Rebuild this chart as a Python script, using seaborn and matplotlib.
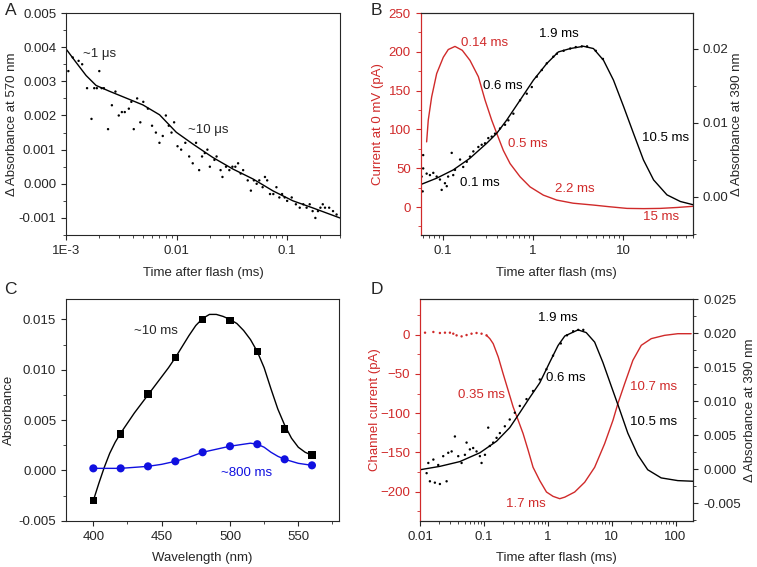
import numpy as np
import pandas as pd
import matplotlib
matplotlib.use("Agg")
import matplotlib.pyplot as plt
from matplotlib.ticker import MultipleLocator, FixedLocator, FixedFormatter, NullFormatter, LogLocator
import seaborn as sns

sns.set_style("ticks")
plt.rcParams["font.family"] = ["Liberation Sans", "DejaVu Sans"]
plt.rcParams["font.size"] = 9.5

RED = "#d02a2a"
BLUE = "#1010e0"

# ---- Panel A: absorbance at 570 nm ----
a_fit_t = [0.001, 0.00123, 0.00152, 0.00187, 0.00247, 0.0035, 0.00496, 0.00702, 0.00993,
           0.0141, 0.0213, 0.0324, 0.0492, 0.0747, 0.113, 0.172, 0.30]
a_fit_v = [0.00395, 0.00356, 0.00317, 0.00288, 0.00271, 0.00251, 0.00231, 0.00202, 0.00151,
           0.00116, 0.00077, 0.00043, 0.00014, -0.00021, -0.0005, -0.00071, -0.001]
a_dot_t = [0.00105, 0.00115, 0.0013, 0.0014, 0.00155, 0.0017, 0.0018, 0.0019, 0.002, 0.0021,
           0.0022, 0.0024, 0.0026, 0.0028, 0.003, 0.0032, 0.0034, 0.0037, 0.0039, 0.0041,
           0.0044, 0.0047, 0.005, 0.0055, 0.006, 0.0065, 0.007, 0.0075, 0.008, 0.0085,
           0.009, 0.0095, 0.0102, 0.011, 0.012, 0.013, 0.014, 0.015, 0.016, 0.017, 0.018,
           0.019, 0.02, 0.022, 0.023, 0.025, 0.026, 0.028, 0.03, 0.032, 0.034, 0.036,
           0.038, 0.04, 0.044, 0.047, 0.05, 0.053, 0.056, 0.06, 0.063, 0.066, 0.07, 0.075,
           0.08, 0.085, 0.09, 0.095, 0.1, 0.11, 0.12, 0.13, 0.14, 0.15, 0.16, 0.17, 0.18,
           0.19, 0.2, 0.21, 0.22, 0.24, 0.26, 0.28]
a_dot_v = [0.0033, 0.0037, 0.0036, 0.0035, 0.0028, 0.0019, 0.0028, 0.0028, 0.0033, 0.0028,
           0.0028, 0.0016, 0.0023, 0.0027, 0.002, 0.0021, 0.0021, 0.0022, 0.0024, 0.0016,
           0.0025, 0.0018, 0.0024, 0.0022, 0.0017, 0.0015, 0.0012, 0.0014, 0.002, 0.0017,
           0.0015, 0.0018, 0.0011, 0.001, 0.0012, 0.0008, 0.0006, 0.0012, 0.0004, 0.0008,
           0.0009, 0.001, 0.0005, 0.0007, 0.0008, 0.0004, 0.0002, 0.0005, 0.0004, 0.0005,
           0.0005, 0.0006, 0.0003, 0.0004, 0.0001, -0.0002, 0.0001, 0.0, 0.0001, -0.0001,
           0.0002, 0.0001, -0.0003, -0.0003, -0.0001, -0.0004, -0.0003, -0.0004, -0.0005,
           -0.0004, -0.0006, -0.0007, -0.0006, -0.0007, -0.0006, -0.0008, -0.001, -0.0008,
           -0.0007, -0.0006, -0.0007, -0.0007, -0.0008, -0.0009]

# ---- Panel B: current at 0 mV (left) and absorbance at 390 nm (right) ----
b_cur_t = [0.0664, 0.0692, 0.0755, 0.0858, 0.1016, 0.1154, 0.137, 0.165, 0.201, 0.249,
           0.295, 0.35, 0.398, 0.471, 0.56, 0.723, 0.933, 1.31, 1.85, 2.8, 4.7, 7.0, 11.1,
           17.0, 25.9, 40.0, 60.0]
b_cur_v = [84, 112, 142, 172, 193, 203, 207, 202, 189, 168, 138, 112, 95, 73, 56, 39, 26,
           15.4, 9, 5, 2.6, 0.5, -1.7, -2.0, -1.7, -0.5, 1.0]
b_abs_t = [0.056, 0.0858, 0.131, 0.201, 0.308, 0.398, 0.514, 0.723, 1.016, 1.43, 1.92, 2.6,
           3.65, 4.71, 6.09, 7.86, 10.2, 13.1, 16.9, 21.9, 30.8, 43.4, 60.8]
b_abs_v = [0.00158, 0.00248, 0.0036, 0.00518, 0.0072, 0.00854, 0.01034, 0.01303, 0.01573,
           0.01798, 0.01954, 0.0200, 0.02031, 0.0200, 0.01842, 0.01573, 0.01213, 0.00854,
           0.00495, 0.00225, 0.00023, -0.00067, -0.00112]
b_dot_t = [0.0608, 0.0608, 0.0584, 0.060, 0.0664, 0.0722, 0.0787, 0.0858, 0.0933, 0.0975,
           0.106, 0.111, 0.115, 0.126, 0.131, 0.137, 0.156, 0.169, 0.185, 0.201, 0.219,
           0.249, 0.271, 0.295, 0.321, 0.35, 0.381, 0.433, 0.492, 0.536, 0.609, 0.723,
           0.857, 0.975, 1.107, 1.26, 1.43, 1.69, 1.85, 2.2, 2.6, 3.0, 3.5, 4.0, 5.0, 6.0]
b_dot_v = [0.0056, 0.0038, 0.0027, 0.0007, 0.0031, 0.0029, 0.0032, 0.0027, 0.0023, 0.0009,
           0.0018, 0.0014, 0.0027, 0.0059, 0.0029, 0.0036, 0.005, 0.004, 0.0047, 0.0054,
           0.0061, 0.0067, 0.007, 0.0072, 0.0079, 0.0081, 0.0085, 0.0092, 0.0097, 0.0103,
           0.0112, 0.013, 0.0139, 0.0148, 0.0162, 0.0171, 0.018, 0.0189, 0.0193, 0.0197,
           0.0200, 0.0202, 0.0203, 0.0203, 0.0197, 0.0186]

# ---- Panel C: difference spectra ----
c_wl = [400, 420, 440, 460, 480, 500, 520, 540, 560]
c_10ms = [-0.003, 0.0036, 0.0076, 0.0112, 0.0150, 0.0149, 0.0118, 0.0041, 0.0015]
c_800ms = [0.0002, 0.0002, 0.0004, 0.0009, 0.0018, 0.0024, 0.0026, 0.0011, 0.0005]
c_line_wl = [400, 404, 408, 412, 416, 420, 425, 430, 435, 440, 445, 450, 455, 460, 465, 470,
             475, 480, 485, 490, 495, 500, 505, 510, 515, 520, 525, 530, 535, 540, 545, 550,
             555, 560]
c_line_10 = [-0.003, -0.0013, 0.0003, 0.0017, 0.0028, 0.0037, 0.0047, 0.0057, 0.0066, 0.0075,
             0.0084, 0.0093, 0.0102, 0.0112, 0.0123, 0.0134, 0.0144, 0.0151, 0.0155, 0.0155,
             0.0153, 0.0150, 0.0146, 0.0139, 0.0130, 0.0118, 0.0102, 0.0081, 0.0061, 0.0045,
             0.0032, 0.0023, 0.0018, 0.0015]
c_line2_wl = [400, 410, 420, 430, 440, 450, 460, 470, 480, 490, 500, 510, 515, 520, 525, 530,
              535, 540, 550, 560]
c_line_800 = [0.0002, 0.0002, 0.0002, 0.0003, 0.0004, 0.0006, 0.0009, 0.0013, 0.0018, 0.0021,
              0.0024, 0.0026, 0.0027, 0.0026, 0.0023, 0.0018, 0.0014, 0.0011, 0.0007, 0.0005]

# ---- Panel D: channel current (left) and absorbance at 390 nm (right) ----
d_cur_dot_t = [0.012, 0.0162, 0.0205, 0.0246, 0.0294, 0.0332, 0.0374, 0.0448, 0.0536,
               0.0641, 0.0768, 0.092, 0.110]
d_cur_dot_v = [2.5, 3.4, 2.1, 2.5, 2.5, 1.2, -0.9, -2.2, -0.5, 1.2, 2.1, 1.2, -0.9]
d_cur_t = [0.110, 0.124, 0.14, 0.168, 0.2, 0.24, 0.287, 0.344, 0.411, 0.492, 0.589, 0.75,
           0.955, 1.21, 1.54, 1.85, 2.64, 3.79, 5.42, 7.76, 10.5, 12.5, 16.0, 21.5, 29.1,
           41.7, 67.3, 108.6, 175.8]
d_cur_v = [-0.9, -5.1, -11.5, -28.5, -49.7, -71, -92, -109, -126, -147, -169, -186, -200.5,
           -206, -209, -207, -200.5, -188, -169, -139, -109, -88, -62.4, -32.7, -13.6, -5.1,
           -0.9, 1.2, 1.2]
d_abs_t = [0.01, 0.0205, 0.042, 0.0866, 0.158, 0.254, 0.365, 0.52, 0.75, 1.07, 1.45, 1.85,
           2.98, 4.0, 5.42, 7.3, 9.88, 13.3, 17.9, 25.6, 36.7, 59.6, 108.6, 196]
d_abs_v = [-0.0001, 0.0004, 0.0011, 0.0024, 0.0041, 0.0061, 0.0083, 0.0105, 0.0127, 0.0157,
           0.0182, 0.0196, 0.0205, 0.0201, 0.0187, 0.0157, 0.0122, 0.0088, 0.0053, 0.0021,
           -0.0001, -0.0013, -0.0017, -0.0018]
d_dot_t = [0.0127, 0.0143, 0.0171, 0.0205, 0.0261, 0.0135, 0.0162, 0.0193, 0.0231, 0.0277,
           0.0313, 0.0352, 0.0397, 0.0448, 0.0505, 0.0536, 0.0604, 0.068, 0.0768, 0.0866,
           0.092, 0.104, 0.117, 0.124, 0.14, 0.158, 0.178, 0.213, 0.254, 0.305, 0.365,
           0.465, 0.589, 0.75, 0.955, 1.21, 1.6, 2.0, 2.5, 3.0, 3.6]
d_dot_v = [-0.0006, -0.0018, -0.002, -0.0022, -0.0018, 0.0009, 0.0014, 0.0006, 0.0019,
           0.0024, 0.0026, 0.0048, 0.0019, 0.0009, 0.0021, 0.0039, 0.0029, 0.0031, 0.0026,
           0.0019, 0.0009, 0.0021, 0.0061, 0.0034, 0.0039, 0.0046, 0.0053, 0.0063, 0.0073,
           0.0083, 0.0093, 0.0103, 0.0115, 0.0132, 0.0147, 0.0167, 0.0185, 0.0197, 0.0203,
           0.0205, 0.0205]


def style_axis(ax):
    for s in ax.spines.values():
        s.set_linewidth(0.8)
    ax.tick_params(which="major", direction="out", length=3.6, width=0.8, top=False, right=False)
    ax.tick_params(which="minor", direction="out", length=2.2, width=0.6, top=False, right=False)


def log_xaxis(ax, lo, hi, ticks, labels):
    ax.set_xscale("log")
    ax.set_xlim(lo, hi)
    ax.xaxis.set_major_locator(FixedLocator(ticks))
    ax.xaxis.set_major_formatter(FixedFormatter(labels))
    ax.xaxis.set_minor_locator(LogLocator(base=10, subs=np.arange(2, 10)))
    ax.xaxis.set_minor_formatter(NullFormatter())


def style_right(ax2, major, minor, fmt):
    ax2.yaxis.set_major_locator(MultipleLocator(major))
    ax2.yaxis.set_minor_locator(MultipleLocator(minor))
    ax2.yaxis.set_major_formatter(plt.FuncFormatter(lambda v, p: fmt.format(v)))
    ax2.tick_params(which="major", direction="out", length=3.6, width=0.8)
    ax2.tick_params(which="minor", direction="out", length=2.2, width=0.6)
    ax2.spines["left"].set_color(RED)
    for s in ax2.spines.values():
        s.set_linewidth(0.8)


fig = plt.figure(figsize=(7.57, 5.67), dpi=100)

# Panel A
axA = fig.add_axes([0.0872, 0.5855, 0.3618, 0.3915])
sns.scatterplot(x=a_dot_t, y=a_dot_v, ax=axA, s=3, color="black", edgecolor="none")
sns.lineplot(x=a_fit_t, y=a_fit_v, ax=axA, color="black", lw=1.0, sort=False, estimator=None)
log_xaxis(axA, 0.001, 0.3, [0.001, 0.01, 0.1], ["1E-3", "0.01", "0.1"])
axA.set_ylim(-0.0015, 0.005)
axA.yaxis.set_major_locator(MultipleLocator(0.001))
axA.yaxis.set_minor_locator(MultipleLocator(0.0005))
axA.yaxis.set_major_formatter(plt.FuncFormatter(lambda v, p: f"{v:.3f}"))
style_axis(axA)
axA.set_xlabel("Time after flash (ms)", labelpad=7)
axA.set_ylabel("\u0394 Absorbance at 570 nm")
axA.yaxis.set_label_coords(-0.175, 0.5)
axA.text(0.00142, 0.0037, "~1 \u03bcs")
axA.text(0.0128, 0.0015, "~10 \u03bcs")

# Panel B
axB = fig.add_axes([0.5557, 0.5855, 0.3598, 0.3915])
sns.lineplot(x=b_cur_t, y=b_cur_v, ax=axB, color=RED, lw=1.0, sort=False, estimator=None)
log_xaxis(axB, 0.057, 60, [0.1, 1, 10], ["0.1", "1", "10"])
axB.set_ylim(-36, 250)
axB.yaxis.set_major_locator(MultipleLocator(50))
axB.yaxis.set_minor_locator(MultipleLocator(25))
style_axis(axB)
axB.spines["left"].set_color(RED)
axB.tick_params(axis="y", which="both", colors=RED)
axB.set_xlabel("Time after flash (ms)", labelpad=7)
axB.set_ylabel("Current at 0 mV (pA)", color=RED)
axB.yaxis.set_label_coords(-0.135, 0.5)
axB2 = axB.twinx()
sns.scatterplot(x=b_dot_t, y=b_dot_v, ax=axB2, s=3, color="black", edgecolor="none")
sns.lineplot(x=b_abs_t, y=b_abs_v, ax=axB2, color="black", lw=1.0, sort=False, estimator=None)
axB2.set_ylim(-0.0052, 0.0248)
style_right(axB2, 0.01, 0.005, "{:.2f}")
axB2.set_ylabel("\u0394 Absorbance at 390 nm")
axB2.yaxis.set_label_coords(1.14, 0.5)
axB.text(0.16, 208, "0.14 ms", color=RED)
axB.text(1.93, 219, "1.9 ms", color="black", ha="center")
axB.text(0.283, 152, "0.6 ms", color="black")
axB.text(0.536, 78, "0.5 ms", color=RED)
axB.text(0.156, 27, "0.1 ms", color="black")
axB.text(1.77, 20, "2.2 ms", color=RED)
axB.text(16.3, 85, "10.5 ms", color="black")
axB.text(16.7, -17, "15 ms", color=RED)

# Panel C
axC = fig.add_axes([0.0872, 0.0817, 0.361, 0.3904])
sns.lineplot(x=c_line_wl, y=c_line_10, ax=axC, color="black", lw=1.0, sort=False, estimator=None)
sns.lineplot(x=c_line2_wl, y=c_line_800, ax=axC, color=BLUE, lw=1.0, sort=False, estimator=None)
sns.scatterplot(x=c_wl, y=c_10ms, ax=axC, marker="s", s=30, color="black", edgecolor="none", zorder=3)
sns.scatterplot(x=c_wl, y=c_800ms, ax=axC, marker="o", s=34, color=BLUE, edgecolor="none", zorder=3)
axC.set_xlim(380, 580)
axC.set_ylim(-0.005, 0.017)
axC.xaxis.set_major_locator(FixedLocator([400, 450, 500, 550]))
axC.xaxis.set_minor_locator(MultipleLocator(25))
axC.yaxis.set_major_locator(MultipleLocator(0.005))
axC.yaxis.set_minor_locator(MultipleLocator(0.0025))
axC.yaxis.set_major_formatter(plt.FuncFormatter(lambda v, p: f"{v:.3f}"))
style_axis(axC)
axC.set_xlabel("Wavelength (nm)", labelpad=7)
axC.set_ylabel("Absorbance")
axC.yaxis.set_label_coords(-0.185, 0.5)
axC.text(446, 0.0139, "~10 ms", ha="center", va="center")
axC.text(512, -0.0003, "~800 ms", ha="center", va="center", color=BLUE)

# Panel D
axD = fig.add_axes([0.5548, 0.0817, 0.3611, 0.3904])
sns.scatterplot(x=d_cur_dot_t, y=d_cur_dot_v, ax=axD, s=3, color=RED, edgecolor="none")
sns.lineplot(x=d_cur_t, y=d_cur_v, ax=axD, color=RED, lw=1.0, sort=False, estimator=None)
log_xaxis(axD, 0.01, 190, [0.01, 0.1, 1, 10, 100], ["0.01", "0.1", "1", "10", "100"])
axD.set_ylim(-237, 45)
axD.yaxis.set_major_locator(MultipleLocator(50))
axD.yaxis.set_minor_locator(MultipleLocator(25))
style_axis(axD)
axD.spines["left"].set_color(RED)
axD.tick_params(axis="y", which="both", colors=RED)
axD.set_xlabel("Time after flash (ms)", labelpad=7)
axD.set_ylabel("Channel current (pA)", color=RED)
axD.yaxis.set_label_coords(-0.143, 0.5)
axD2 = axD.twinx()
sns.scatterplot(x=d_dot_t, y=d_dot_v, ax=axD2, s=3, color="black", edgecolor="none")
sns.lineplot(x=d_abs_t, y=d_abs_v, ax=axD2, color="black", lw=1.0, sort=False, estimator=None)
axD2.set_ylim(-0.0076, 0.025)
style_right(axD2, 0.005, 0.0025, "{:.3f}")
axD2.set_ylabel("\u0394 Absorbance at 390 nm")
axD2.yaxis.set_label_coords(1.186, 0.5)
axD.text(0.706, 18, "1.9 ms", color="black")
axD.text(0.953, -59, "0.6 ms", color="black")
axD.text(0.0397, -81, "0.35 ms", color=RED)
axD.text(19.1, -71, "10.7 ms", color=RED)
axD.text(19.1, -115, "10.5 ms", color="black")
axD.text(0.226, -219, "1.7 ms", color=RED)

for letter, (x, y) in zip("ABCD", [(0.006, 0.995), (0.49, 0.995), (0.006, 0.502), (0.49, 0.502)]):
    fig.text(x, y, letter, fontsize=12.5, va="top", ha="left")

fig.savefig("out.png", dpi=100)
